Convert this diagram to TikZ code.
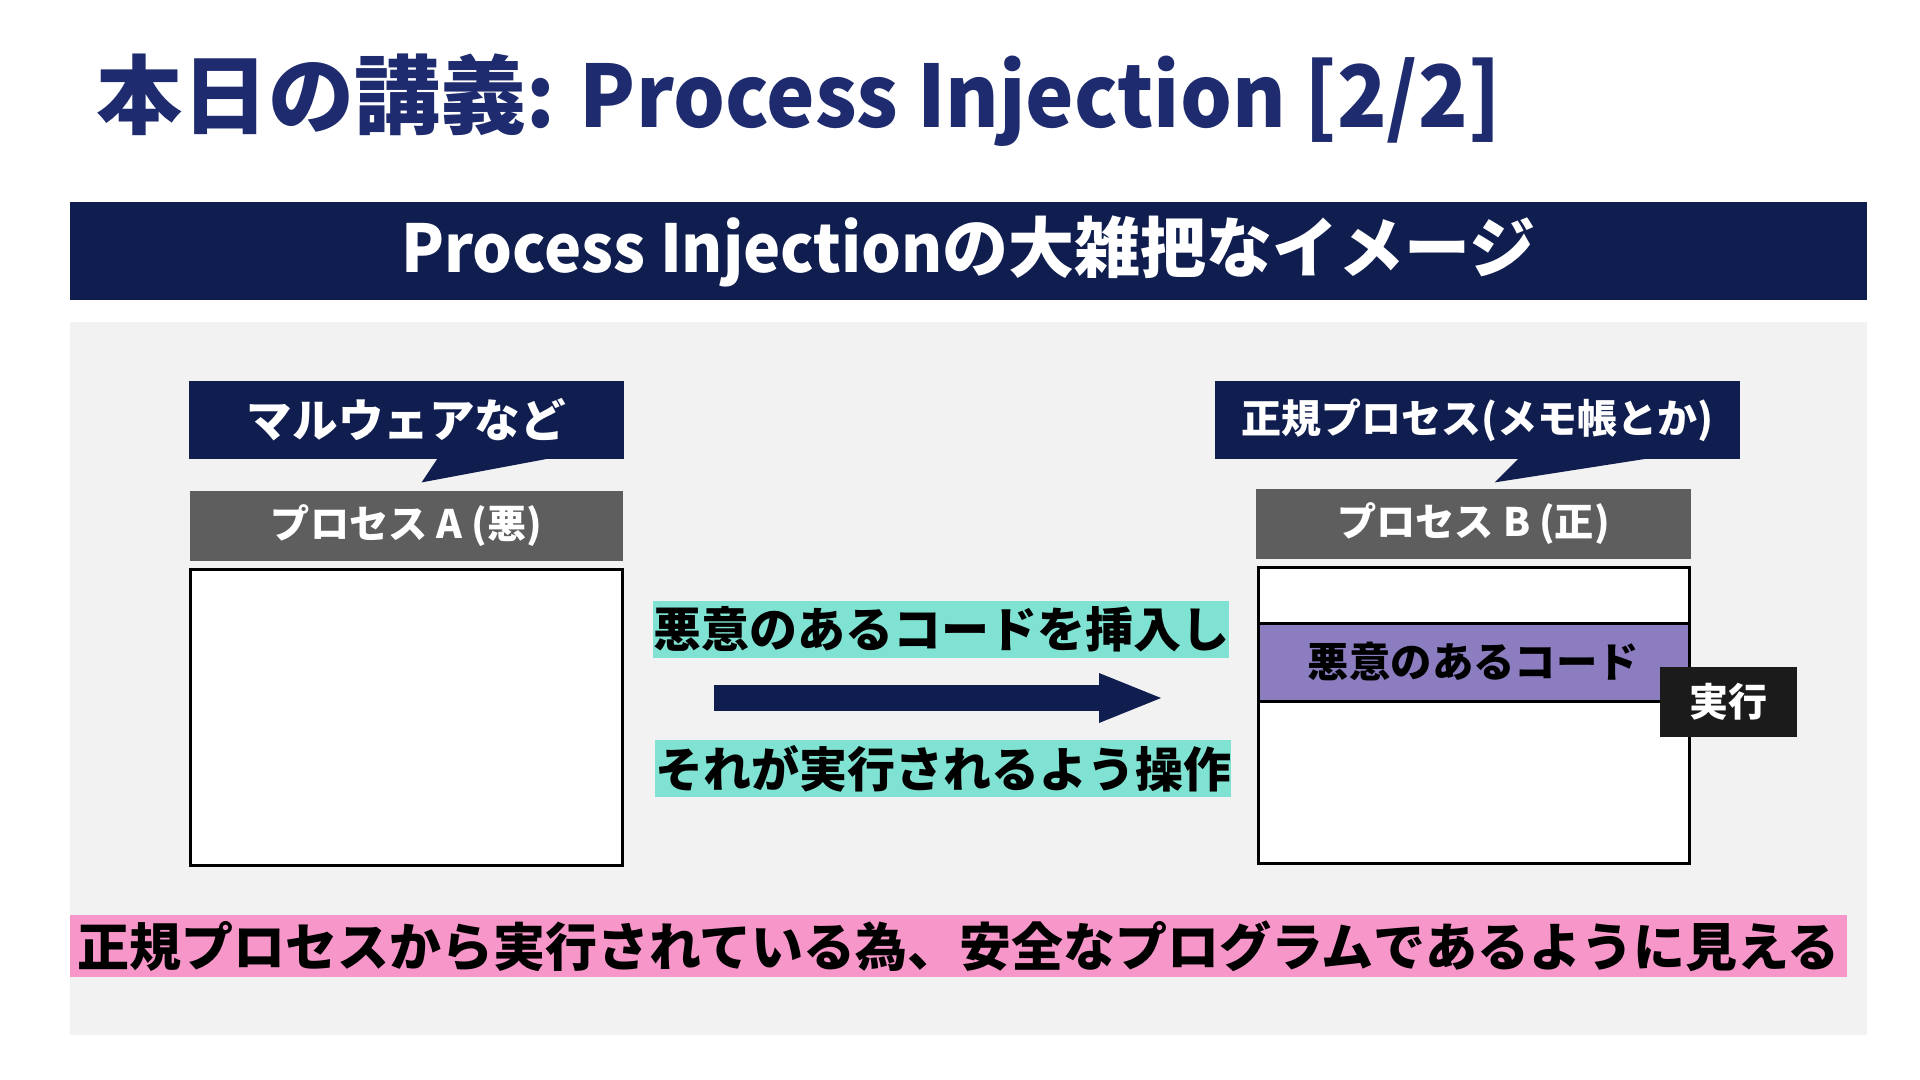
\documentclass[tikz,border=0pt]{standalone}
\usepackage{fontspec}
\setmainfont{Noto Sans CJK JP}
\newfontfamily\latnarrow{Noto Sans CJK JP}[FakeStretch=0.95]
\usetikzlibrary{arrows.meta, positioning, calc}
\definecolor{slidenavy}{RGB}{15,29,79}
\definecolor{titlenavy}{RGB}{30,43,110}
\definecolor{panelgray}{RGB}{242,242,242}
\definecolor{procgray}{RGB}{94,94,94}
\definecolor{codepurple}{RGB}{140,125,192}
\definecolor{tagcyan}{RGB}{128,226,210}
\definecolor{notepink}{RGB}{247,150,201}
\definecolor{execblack}{RGB}{27,27,27}
\tikzset{
  jpfont/.style={font=\fontsize{#1}{#1}\selectfont\bfseries},
  callbox/.style={rectangle, fill=slidenavy, text=white, inner sep=0pt,
    minimum height=39pt},
  procbar/.style={rectangle, fill=procgray, text=white, inner sep=0pt,
    minimum height=35pt, jpfont=19.6},
  membox/.style={rectangle, draw=black, fill=white, line width=1.5pt, inner sep=0pt},
  tagbox/.style={rectangle, fill=tagcyan, inner sep=0pt, minimum width=288pt,
    minimum height=28.5pt, jpfont=24},
  bigarrow/.style={line width=13pt, color=slidenavy,
    -{Triangle[length=31pt, width=25pt, line width=0pt]}}
}
\begin{document}
\begin{tikzpicture}[x=0.5pt, y=-0.5pt]
  \fill[white] (0,0) rectangle (1920,1080);
  \useasboundingbox (0,0) rectangle (1920,1080);

  % heading
  \node[anchor=base west, inner sep=0pt, text=titlenavy, jpfont=43] (title) at (96,128)
    {本日の講義{\latnarrow\bfseries: Process Injection [2/2]}};
  \node[fill=slidenavy, text=white, minimum width=898.5pt, minimum height=49pt,
    inner sep=0pt, jpfont=33] (banner) at (968.5,251)
    {{\latnarrow\bfseries Process Injection}の大雑把なイメージ};

  \fill[panelgray] (70,322) rectangle (1867,1035);

  % process A
  \node[callbox, minimum width=217.5pt, jpfont=22.8] (callA) at (406.5,420) {マルウェアなど};
  \fill[slidenavy] ([xshift=124.5pt, yshift=0.5pt]callA.south west)
    -- ([xshift=116.5pt, yshift=-11.5pt]callA.south west)
    -- ([xshift=180.5pt, yshift=0.5pt]callA.south west) -- cycle;
  \node[procbar, minimum width=216.5pt, below=15.5pt of callA] (procA) {プロセス A (悪)};
  \node[membox, minimum width=216pt, minimum height=148pt, below=3.5pt of procA] (memA) {};

  % process B
  \node[callbox, minimum width=262.5pt, jpfont=20] (callB) at (1477.5,420) {正規プロセス(メモ帳とか)};
  \fill[slidenavy] ([xshift=152pt, yshift=0.5pt]callB.south west)
    -- ([xshift=140pt, yshift=-11.5pt]callB.south west)
    -- ([xshift=217pt, yshift=0.5pt]callB.south west) -- cycle;
  \node[procbar, minimum width=217.5pt] (procB) at (1473.5,524) {プロセス B (正)};
  \node[membox, minimum width=215.5pt, minimum height=148pt, below=3.5pt of procB] (memB) {};
  \node[membox, fill=codepurple, minimum width=215.5pt, minimum height=39pt, jpfont=20.7]
    (code) at (1473.5,662) {悪意のあるコード};
  \node[fill=execblack, text=white, minimum width=68.5pt, minimum height=35pt,
    inner sep=0pt, jpfont=19.5] (exec) at (1728.5,702) {実行};

  % injection
  \node[tagbox] (tagIns) at (941,629.5) {悪意のあるコードを挿入し};
  \node[tagbox] (tagRun) at (943,768.5) {それが実行されるよう操作};
  \coordinate (arrS) at (714,698);
  \coordinate (arrE) at (1161,698);
  \draw[bigarrow] (arrS) -- (arrE);

  \node[fill=notepink, minimum width=888.5pt, minimum height=31pt, inner sep=0pt,
    jpfont=26] (note) at (958.5,946) {正規プロセスから実行されている為、安全なプログラムであるように見える};
\end{tikzpicture}
\end{document}
